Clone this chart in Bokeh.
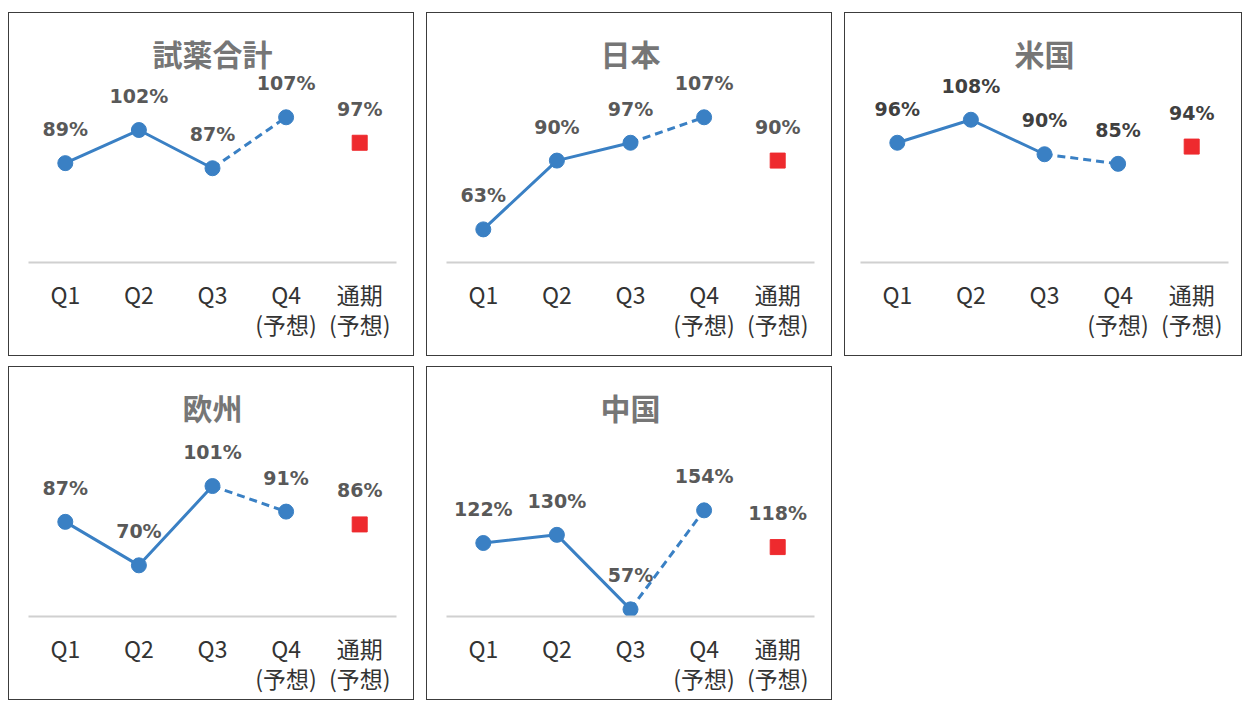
from bokeh.plotting import figure
from bokeh.layouts import row, column
from bokeh.models import Spacer, FactorRange, Range1d, ColumnDataSource
from bokeh.core.properties import value
from bokeh.embed import file_html
from bokeh.resources import INLINE

# ---- data ----
categories = ["Q1", "Q2", "Q3", "Q4\n(予想)", "通期\n(予想)"]
titles = ["試薬合計", "日本", "米国", "欧州", "中国"]
q1 = [89, 63, 96, 87, 122]
q2 = [102, 90, 108, 70, 130]
q3 = [87, 97, 90, 101, 57]
q4 = [107, 107, 85, 91, 154]
full_year = [97, 90, 94, 86, 118]
# per-panel value axis limits (each chart has its own scale)
y_min = [50, 50, 33.5, 50, 50]
y_max = [123.4, 123.4, 131.1, 123.1, 233.2]

BLUE = "#3a80c4"
RED = "#ee2a2e"
JP = "Noto Sans CJK JP"


def panel(i, width, height, left_border, right_border, bottom_border, label_color):
    p = figure(width=width, height=height, output_backend="svg", toolbar_location=None,
               x_range=FactorRange(*categories, range_padding=0),
               y_range=Range1d(y_min[i], y_max[i]),
               min_border_left=left_border, min_border_right=right_border,
               min_border_top=62, min_border_bottom=bottom_border,
               styles={"border": "1px solid #3c3c3c"})
    p.title.text = titles[i]
    p.title.align = "center"
    p.title.text_font = JP
    p.title.text_font_size = "30px"
    p.title.text_font_style = "bold"
    p.title.text_color = "#767676"
    p.title.standoff = 1
    p.outline_line_color = None
    p.grid.visible = False
    p.yaxis.visible = False
    ax = p.xaxis[0]
    ax.axis_line_color = "#d0d0d0"
    ax.axis_line_width = 2
    ax.major_tick_line_color = None
    ax.minor_tick_line_color = None
    ax.major_label_standoff = 8
    ax.major_label_text_font = JP
    ax.major_label_text_font_size = "23px"
    ax.major_label_text_color = "#333333"
    ax.major_label_text_line_height = 0.9

    vals = [q1[i], q2[i], q3[i], q4[i]]
    quarters = categories[:4]
    p.line(x=quarters[:3], y=vals[:3], line_color=BLUE, line_width=3)
    p.line(x=quarters[2:4], y=vals[2:4], line_color=BLUE, line_width=3, line_dash="8 5")
    p.scatter(x=quarters, y=vals, size=15, marker="circle", fill_color=BLUE, line_color=BLUE)
    p.scatter(x=[categories[4]], y=[full_year[i]], size=15, marker="square",
              fill_color=RED, line_color=RED)

    all_vals = vals + [full_year[i]]
    src = ColumnDataSource(dict(x=categories, y=all_vals, t=[f"{v}%" for v in all_vals]))
    p.text(x="x", y="y", text="t", source=src, y_offset=-34,
           text_align="center", text_baseline="middle",
           text_font=value("DejaVu Sans"), text_font_style="bold",
           text_font_size="19px", text_color=label_color)
    return p


p1 = panel(0, 406, 344, 19, 19, 95, "#595959")
p2 = panel(1, 406, 344, 19, 19, 95, "#595959")
p3 = panel(2, 398, 344, 15, 15, 95, "#404040")
p4 = panel(3, 406, 334, 19, 19, 85, "#595959")
p5 = panel(4, 406, 334, 19, 19, 85, "#595959")

row1 = row(Spacer(width=8), p1, Spacer(width=12), p2, Spacer(width=12), p3)
row2 = row(Spacer(width=8), p4, Spacer(width=12), p5)
layout = column(Spacer(height=12), row1, Spacer(height=10), row2)

open("out.html", "w").write(file_html(layout, INLINE))
